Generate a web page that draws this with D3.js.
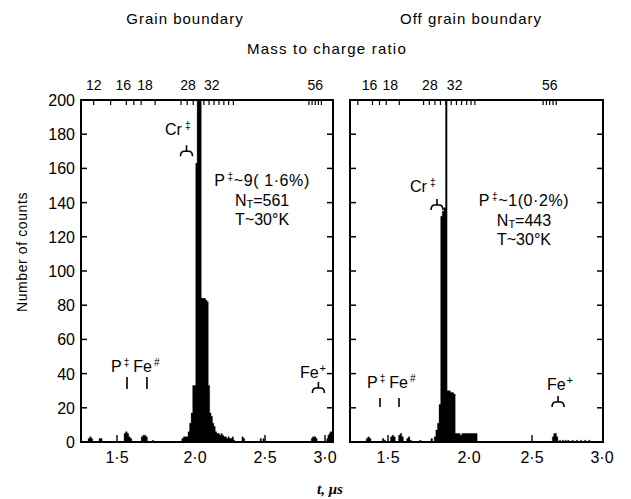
<!DOCTYPE html>
<html><head><meta charset="utf-8">
<script src="https://cdn.jsdelivr.net/npm/d3@7"></script>
<style>body{margin:0;background:#fff} svg{display:block}</style>
</head><body><svg id="c" width="631" height="499"></svg>
<script>
// ---------------- data ----------------
const binWidth = 0.01; // μs
const yTickValues = [0,20,40,60,80,100,120,140,160,180,200];
const tTickValues = [1.5,2.0,2.5,3.0];
const tTickLabels = ["1·5","2·0","2·5","3·0"];
const massLabelValues = [12,16,18,28,32,56];
const massMinorValues = [12,14,16,17,18,20,24,25,26,27,28,29,30,31,32,33,34,54,55,56,57,58];

// Grain boundary histogram (bin centre t in μs, counts)
const leftT = [1.32,1.33,1.34,1.39,1.40,1.55,1.56,1.57,1.58,1.59,1.66,1.67,1.68,1.69,1.73,
  1.92,1.93,1.94,1.95,1.96,1.97,1.98,1.99,2.00,2.01,2.02,2.03,2.04,2.05,2.06,2.07,2.08,2.09,
  2.10,2.11,2.12,2.13,2.14,2.15,2.16,2.17,2.18,2.19,2.20,2.21,2.22,2.23,2.24,2.25,2.26,2.27,2.28,
  2.34,2.35,2.47,2.49,2.89,2.90,2.91,2.92,2.93,3.02,3.03,3.04,3.05,3.06];
const leftCounts = [2,3,2,2,2,5,6,5,3,2,3,4,4,3,1,
  2,3,3,3,6,11,17,33,33,163,215,240,230,84,84,84,83,82,
  33,17,15,11,9,6,5,5,4,5,4,3,3,2,3,2,2,3,1,
  3,2,2,2,2,3,3,3,2,2,4,5,6,6];

// Off grain boundary histogram
const rightT = [1.37,1.38,1.39,1.47,1.48,1.52,1.53,1.54,1.57,1.58,1.59,1.62,1.63,1.64,1.70,
  1.77,1.79,1.80,1.81,1.82,1.83,1.84,1.85,1.86,1.87,1.88,1.89,1.90,1.91,
  1.92,1.93,1.94,1.95,1.96,1.97,1.98,1.99,2.00,2.01,2.02,2.03,2.04,2.05,2.06,
  2.65,2.66,2.67,2.68,2.70,2.72,2.74,2.76,2.79,2.82,2.85,2.88,2.91];
const rightCounts = [2,3,2,2,1,3,4,3,4,5,3,2,3,1,1,
  2,3,7,11,22,132,135,137,250,30,30,29,29,28,
  5,5,5,4,5,5,5,5,5,5,5,5,5,5,5,
  3,5,5,3,1,1,1,1,1,1,1,1,1];

// ---------------- layout ----------------
const svg = d3.select("#c");
const FONT = "'Liberation Sans', Arial, sans-serif";
const yTop = 100, yBot = 442;
const y = d3.scaleLinear().domain([0,200]).range([yBot, yTop]);

const panels = [
  { id:"L", title:"Grain boundary", titleX:185, t:leftT, c:leftCounts,
    domain:[1.27,1.5,2,2.5,3,3.07], range:[81,117,195,265,325,333], massK:0.39, yLabels:true,
    cr:{tx:1.808, cy:179.5, bt:1.9455, bc:170},
    main:{t:2.479, c:150, lines:["P","~9( 1·6%)","561"]},
    pfe:{t:1.4615, c:41, l1:1.564, l2:1.692, lc0:38, lc1:31},
    fe:{t:2.90, c:37.4, bt:2.945, bc:31.6} },
  { id:"R", title:"Off grain boundary", titleX:471, t:rightT, c:rightCounts,
    domain:[1.265,1.5,2,2.5,3,3.007], range:[350,388,469,532,602,603], massK:0.351, yLabels:false,
    cr:{tx:1.636, cy:146, bt:1.8025, bc:138.6},
    main:{t:2.4365, c:138, lines:["P","~1(0·2%)","443"]},
    pfe:{t:1.3704, c:31.6, l1:1.4506, l2:1.568, lc0:25.7, lc1:20.5},
    fe:{t:2.70, c:30.4, bt:2.686, bc:23.4} }
];

function bracket(g, cx, yBar) {
  g.append("path")
    .attr("d", `M${cx},${yBar-6} L${cx},${yBar} M${cx-6},${yBar+5} Q${cx-6},${yBar} ${cx-2},${yBar} L${cx+2},${yBar} Q${cx+6},${yBar} ${cx+6},${yBar+5}`)
    .attr("fill","none").attr("stroke","#000").attr("stroke-width",1.6);
}

panels.forEach(p => {
  const x = d3.scaleLinear().domain(p.domain).range(p.range);
  const x0 = p.range[0], x1 = p.range[p.range.length-1];
  const g = svg.append("g");

  svg.append("clipPath").attr("id","clip"+p.id)
    .append("rect").attr("x",x0).attr("y",yTop).attr("width",x1-x0).attr("height",yBot-yTop);

  // histogram bars as one path (avoids seams between adjacent bins)
  const data = p.t.map((t,i)=>({t, c:p.c[i]}));
  const d = data.map(b => {
    const a = x(b.t - binWidth/2), e = x(b.t + binWidth/2);
    return `M${a},${y(0)}V${y(b.c)}H${e}V${y(0)}Z`;
  }).join("");
  g.append("path").attr("clip-path",`url(#clip${p.id})`)
    .attr("d", d).attr("fill","#000").attr("stroke","#000").attr("stroke-width",0.3);

  // frame
  g.append("rect").attr("x",x0).attr("y",yTop).attr("width",x1-x0).attr("height",yBot-yTop)
    .attr("fill","none").attr("stroke","#000").attr("stroke-width",2);

  // y ticks inward on both sides
  yTickValues.filter(v => v>0 && v<200).forEach(v => {
    g.append("line").attr("x1",x0).attr("x2",x0+6).attr("y1",y(v)).attr("y2",y(v))
      .attr("stroke","#000").attr("stroke-width",1.5);
    g.append("line").attr("x1",x1-6).attr("x2",x1).attr("y1",y(v)).attr("y2",y(v))
      .attr("stroke","#000").attr("stroke-width",1.5);
  });
  if (p.yLabels) {
    g.selectAll("text.yl").data(yTickValues).join("text")
      .attr("x", x0-6).attr("y", v => y(v)+6)
      .attr("text-anchor","end").attr("font-family",FONT).attr("font-size",16)
      .text(v => v);
  }

  // bottom t ticks + labels
  tTickValues.forEach((v,i) => {
    const xv = x(v);
    if (xv > x0+2 && xv < x1-2)
      g.append("line").attr("x1",xv).attr("x2",xv).attr("y1",yBot).attr("y2",yBot-7)
        .attr("stroke","#000").attr("stroke-width",1.4);
    g.append("text").attr("x",xv).attr("y",463).attr("text-anchor","middle")
      .attr("font-family",FONT).attr("font-size",16).text(tTickLabels[i]);
  });

  // top mass-to-charge axis: t = k * sqrt(m)
  const tm = m => p.massK*Math.sqrt(m);
  const inDom = m => tm(m) > p.domain[0] && tm(m) < p.domain[p.domain.length-1];
  massMinorValues.filter(inDom).forEach(m => {
    g.append("line").attr("x1",x(tm(m))).attr("x2",x(tm(m))).attr("y1",yTop).attr("y2",yTop+5)
      .attr("stroke","#000").attr("stroke-width",1.2);
  });
  const labelDx = {16:-3, 18:4, 28:-16, 32:-12};
  massLabelValues.filter(inDom).forEach(m => {
    g.append("text").attr("x", x(tm(m)) + (labelDx[m]||0)).attr("y",90)
      .attr("text-anchor","middle").attr("font-family",FONT).attr("font-size",14).text(m);
  });

  // panel title
  g.append("text").attr("x",p.titleX).attr("y",24).attr("text-anchor","middle")
    .attr("font-family",FONT).attr("font-size",15).attr("letter-spacing",1).text(p.title);

  // Cr++ label + bracket
  const cr = g.append("text").attr("x",x(p.cr.tx)).attr("y",y(p.cr.cy))
    .attr("font-family",FONT).attr("font-size",16);
  cr.append("tspan").text("Cr");
  cr.append("tspan").attr("dx",3).attr("dy",-6).attr("font-size",10).text("‡");
  bracket(g, x(p.cr.bt), y(p.cr.bc));

  // main annotation
  const mx = x(p.main.t), my = y(p.main.c);
  const m1 = g.append("text").attr("x",mx).attr("y",my).attr("text-anchor","middle")
    .attr("font-family",FONT).attr("font-size",16).attr("letter-spacing",0.6);
  m1.append("tspan").text(p.main.lines[0]);
  m1.append("tspan").attr("dx",2).attr("dy",-6).attr("font-size",10).text("‡");
  m1.append("tspan").attr("dy",6).text(p.main.lines[1]);
  const m2 = g.append("text").attr("x",mx).attr("y",my+20).attr("text-anchor","middle")
    .attr("font-family",FONT).attr("font-size",16);
  m2.append("tspan").text("N");
  m2.append("tspan").attr("font-size",11).attr("dy",2).text("T");
  m2.append("tspan").attr("dy",-2).text("=" + p.main.lines[2]);
  g.append("text").attr("x",mx).attr("y",my+39).attr("text-anchor","middle")
    .attr("font-family",FONT).attr("font-size",16).text("T~30°K");

  // P / Fe markers
  const pf = g.append("text").attr("x",x(p.pfe.t)).attr("y",y(p.pfe.c))
    .attr("font-family",FONT).attr("font-size",16);
  pf.append("tspan").text("P");
  pf.append("tspan").attr("dx",2).attr("dy",-6).attr("font-size",10).text("‡");
  pf.append("tspan").attr("dx",4).attr("dy",6).text("Fe");
  pf.append("tspan").attr("dx",2).attr("dy",-6).attr("font-size",10).text("#");
  [p.pfe.l1, p.pfe.l2].forEach(tv => {
    g.append("line").attr("x1",x(tv)).attr("x2",x(tv)).attr("y1",y(p.pfe.lc0)).attr("y2",y(p.pfe.lc1))
      .attr("stroke","#000").attr("stroke-width",1.6);
  });

  // Fe+ marker
  const fe = g.append("text").attr("x",x(p.fe.t)).attr("y",y(p.fe.c)).attr("text-anchor","middle")
    .attr("font-family",FONT).attr("font-size",16);
  fe.append("tspan").text("Fe");
  fe.append("tspan").attr("dx",1).attr("dy",-6).attr("font-size",11).text("+");
  bracket(g, x(p.fe.bt), y(p.fe.bc));
});

// shared titles
svg.append("text").attr("x",327).attr("y",54).attr("text-anchor","middle")
  .attr("font-family",FONT).attr("font-size",15).attr("letter-spacing",1.2).text("Mass to charge ratio");
svg.append("text").attr("transform","translate(27,252) rotate(-90)").attr("text-anchor","middle")
  .attr("font-family",FONT).attr("font-size",14).attr("letter-spacing",0.6).text("Number of counts");
svg.append("text").attr("x",330).attr("y",494).attr("text-anchor","middle")
  .attr("font-family","'Liberation Serif', serif").attr("font-size",15).attr("font-style","italic")
  .attr("font-weight","bold").text("t, μs");
</script></body></html>
